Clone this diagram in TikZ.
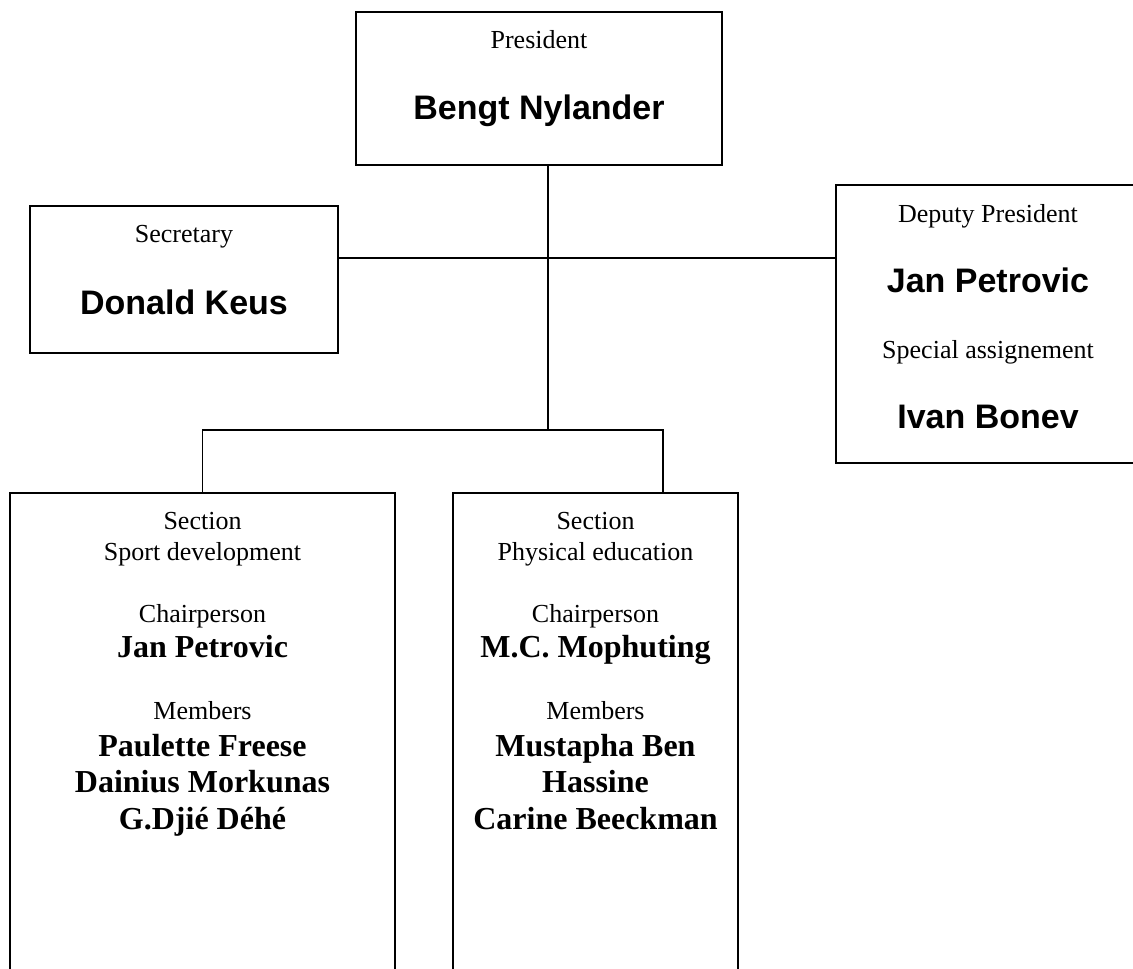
\documentclass[tikz,border=0pt]{standalone}
\usepackage{fontspec}
\setmainfont{Liberation Serif}
\newfontfamily\arialfont{Liberation Sans}
\begin{document}
\begin{tikzpicture}[x=1pt,y=-1pt,
  box/.style={draw, line width=1.8pt, rectangle, inner sep=0pt},
  lbl/.style={anchor=base, inner sep=0pt, font=\fontsize{26}{30}\selectfont},
  bignm/.style={anchor=base, inner sep=0pt, font=\arialfont\bfseries\fontsize{34}{40}\selectfont},
  nm/.style={anchor=base, inner sep=0pt, font=\bfseries\fontsize{32}{36}\selectfont},
  conn/.style={line width=1.8pt}]
\useasboundingbox (0,0) rectangle (1133,969);
\clip (0,0) rectangle (1133,969);
% boxes
\node[box, minimum width=366pt, minimum height=153pt] (pres) at (539,88.5) {};
\node[box, minimum width=308pt, minimum height=147pt] (sec) at (184,279.5) {};
\node[box, minimum width=309pt, minimum height=278pt] (dep) at (990.5,324) {};
\node[box, minimum width=385pt, minimum height=517pt] (sport) at (202.5,751.5) {};
\node[box, minimum width=285pt, minimum height=517pt] (phys) at (595.5,751.5) {};
% junctions
\coordinate (j1) at (548,258);
\coordinate (j2) at (548,430);
\coordinate (rdrop) at (663,430);
% connectors
\draw[conn] (pres.south -| j1) -- (j2);
\draw[conn] (sec.east |- j1) -- (dep.west |- j1);
\draw[conn] (sport.north) |- (rdrop) -- (rdrop |- phys.north);
% texts: president
\node[lbl] (t1) at (539,48) {President};
\node[bignm] (t2) at (539,119) {Bengt Nylander};
% secretary
\node[lbl] (t3) at (184,242) {Secretary};
\node[bignm] (t4) at (184,314) {Donald Keus};
% deputy
\node[lbl] (t5) at (988,222) {Deputy President};
\node[bignm] (t6) at (988,292) {Jan Petrovic};
\node[lbl] (t7) at (988,358) {Special assignement};
\node[bignm] (t8) at (988,428) {Ivan Bonev};
% sport development
\node[lbl] (s1) at (202.5,529) {Section};
\node[lbl] (s2) at (202.5,560) {Sport development};
\node[lbl] (s3) at (202.5,622) {Chairperson};
\node[nm] (s4) at (202.5,657) {Jan Petrovic};
\node[lbl] (s5) at (202.5,719) {Members};
\node[nm] (s6) at (202.5,756) {Paulette Freese};
\node[nm] (s7) at (202.5,792) {Dainius Morkunas};
\node[nm] (s8) at (202.5,829) {G.Djié Déhé};
% physical education
\node[lbl] (p1) at (595.5,529) {Section};
\node[lbl] (p2) at (595.5,560) {Physical education};
\node[lbl] (p3) at (595.5,622) {Chairperson};
\node[nm] (p4) at (595.5,657) {M.C. Mophuting};
\node[lbl] (p5) at (595.5,719) {Members};
\node[nm] (p6) at (595.5,756) {Mustapha Ben};
\node[nm] (p7) at (595.5,792) {Hassine};
\node[nm] (p8) at (595.5,829) {Carine Beeckman};
\end{tikzpicture}
\end{document}
